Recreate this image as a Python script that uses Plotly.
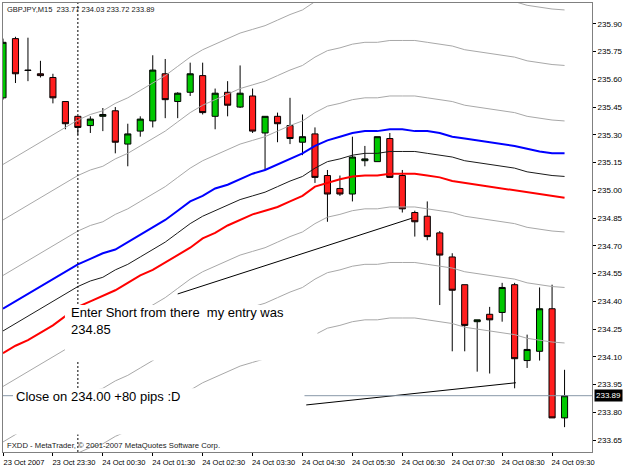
import plotly.graph_objects as go

# ---------------- data (GBPJPY M15, 23 Oct 2007 22:30 .. 24 Oct 09:45) ----------------
bar_times = ["23 Oct 22:30", "23 Oct 22:45", "23 Oct 23:00", "23 Oct 23:15", "23 Oct 23:30", "23 Oct 23:45",
             "24 Oct 00:00", "24 Oct 00:15", "24 Oct 00:30", "24 Oct 00:45", "24 Oct 01:00", "24 Oct 01:15",
             "24 Oct 01:30", "24 Oct 01:45", "24 Oct 02:00", "24 Oct 02:15", "24 Oct 02:30", "24 Oct 02:45",
             "24 Oct 03:00", "24 Oct 03:15", "24 Oct 03:30", "24 Oct 03:45", "24 Oct 04:00", "24 Oct 04:15",
             "24 Oct 04:30", "24 Oct 04:45", "24 Oct 05:00", "24 Oct 05:15", "24 Oct 05:30", "24 Oct 05:45",
             "24 Oct 06:00", "24 Oct 06:15", "24 Oct 06:30", "24 Oct 06:45", "24 Oct 07:00", "24 Oct 07:15",
             "24 Oct 07:30", "24 Oct 07:45", "24 Oct 08:00", "24 Oct 08:15", "24 Oct 08:30", "24 Oct 08:45",
             "24 Oct 09:00", "24 Oct 09:15", "24 Oct 09:30", "24 Oct 09:45"]

opens = [235.50, 235.82, 235.65, 235.63, 235.61, 235.48, 235.40, 235.35, 235.40, 235.43,
         235.25, 235.32, 235.375, 235.63, 235.48, 235.53, 235.62, 235.40, 235.53, 235.45,
         235.51, 235.31, 235.40, 235.35, 235.26, 235.305, 235.08, 235.01, 234.98, 235.16,
         235.155, 235.28, 235.08, 234.88, 234.86, 234.77, 234.64, 234.49, 234.29, 234.33,
         234.34, 234.49, 234.08, 234.13, 234.36, 233.77]
highs = [235.82, 235.83, 235.825, 235.70, 235.63, 235.48, 235.40, 235.40, 235.445, 235.45,
         235.36, 235.40, 235.73, 235.71, 235.53, 235.69, 235.69, 235.55, 235.59, 235.675,
         235.55, 235.40, 235.42, 235.50, 235.41, 235.34, 235.11, 235.08, 235.29, 235.24,
         235.29, 235.31, 235.11, 234.89, 234.94, 234.78, 234.66, 234.49, 234.30, 234.37,
         234.50, 234.50, 234.22, 234.475, 234.49, 234.03]
lows = [235.49, 235.58, 235.59, 235.61, 235.47, 235.33, 235.30, 235.31, 235.32, 235.20,
        235.13, 235.29, 235.34, 235.39, 235.39, 235.51, 235.41, 235.33, 235.40, 235.445,
        235.31, 235.11, 235.26, 235.25, 235.19, 235.04, 234.83, 234.97, 234.94, 235.13,
        235.155, 235.07, 234.88, 234.75, 234.73, 234.38, 234.13, 234.13, 234.02, 234.01,
        234.29, 233.93, 234.04, 234.08, 233.77, 233.72]
closes = [235.80, 235.63, 235.648, 235.62, 235.50, 235.36, 235.34, 235.385, 235.41, 235.26,
          235.305, 235.385, 235.65, 235.49, 235.525, 235.63, 235.42, 235.525, 235.46, 235.525,
          235.32, 235.40, 235.36, 235.28, 235.29, 235.07, 234.98, 234.98, 235.18, 235.17,
          235.29, 235.07, 234.90, 234.83, 234.75, 234.65, 234.46, 234.27, 234.30, 234.30,
          234.475, 234.09, 234.14, 234.36, 233.77, 233.89]

ma_black = [234.24, 234.28, 234.32, 234.36, 234.40, 234.44, 234.48, 234.51, 234.53, 234.57,
            234.60, 234.64, 234.68, 234.72, 234.77, 234.82, 234.86, 234.89, 234.92, 234.95,
            234.97, 234.99, 235.02, 235.05, 235.075, 235.12, 235.155, 235.17, 235.19, 235.20,
            235.20, 235.21, 235.21, 235.21, 235.20, 235.19, 235.18, 235.16, 235.15, 235.14,
            235.13, 235.12, 235.10, 235.09, 235.08, 235.075]
ma_blue = [234.36, 234.40, 234.44, 234.48, 234.52, 234.56, 234.60, 234.63, 234.66, 234.68,
           234.72, 234.76, 234.80, 234.84, 234.89, 234.94, 234.97, 235.01, 235.03, 235.06,
           235.09, 235.11, 235.14, 235.17, 235.20, 235.24, 235.27, 235.29, 235.31, 235.32,
           235.32, 235.33, 235.33, 235.32, 235.32, 235.31, 235.29, 235.28, 235.27, 235.26,
           235.25, 235.24, 235.225, 235.21, 235.20, 235.20]
ma_red = [234.12, 234.16, 234.19, 234.23, 234.27, 234.32, 234.37, 234.40, 234.43, 234.46,
          234.50, 234.54, 234.57, 234.61, 234.65, 234.69, 234.74, 234.77, 234.81, 234.84,
          234.87, 234.89, 234.91, 234.94, 234.97, 235.02, 235.04, 235.06, 235.075, 235.08,
          235.08, 235.09, 235.09, 235.09, 235.08, 235.07, 235.05, 235.04, 235.03, 235.02,
          235.01, 235.00, 234.99, 234.98, 234.97, 234.96]
envelope_offsets = [0.30, 0.60, 0.90]   # grey envelope bands around the black MA

entry_line_bar = [14.0, 32.8]
entry_line_price = [234.44, 234.85]
exit_line_bar = [24.3, 41.1]
exit_line_price = [233.84, 233.96]

tick_bars = [0, 4, 8, 12, 16, 20, 24, 28, 32, 36, 40, 44]
tick_labels = ["23 Oct 2007", "23 Oct 23:30", "24 Oct 00:30", "24 Oct 01:30", "24 Oct 02:30",
               "24 Oct 03:30", "24 Oct 04:30", "24 Oct 05:30", "24 Oct 06:30", "24 Oct 07:30",
               "24 Oct 08:30", "24 Oct 09:30"]
separator_bar = 6  # 24 Oct 00:00

bars = list(range(len(opens)))
FONT = "Liberation Sans"
GREEN = "#00C800"
RED = "#FF1E1E"

fig = go.Figure()
fig.add_trace(go.Candlestick(
    x=bars, open=opens, high=highs, low=lows, close=closes,
    increasing=dict(fillcolor=GREEN, line=dict(color="black", width=1)),
    decreasing=dict(fillcolor=RED, line=dict(color="black", width=1)),
    whiskerwidth=0, showlegend=False, hoverinfo="skip"))

for d in envelope_offsets:
    for sgn in (1, -1):
        fig.add_trace(go.Scatter(x=bars, y=[m + sgn * d for m in ma_black], mode="lines",
                                 line=dict(color="#A8A8A8", width=1), showlegend=False, hoverinfo="skip"))
fig.add_trace(go.Scatter(x=bars, y=ma_blue, mode="lines", line=dict(color="#0000FF", width=2),
                         showlegend=False, hoverinfo="skip"))
fig.add_trace(go.Scatter(x=bars, y=ma_red, mode="lines", line=dict(color="#FF0000", width=2),
                         showlegend=False, hoverinfo="skip"))
fig.add_trace(go.Scatter(x=bars, y=ma_black, mode="lines", line=dict(color="#1A1A1A", width=1),
                         showlegend=False, hoverinfo="skip"))
fig.add_trace(go.Scatter(x=entry_line_bar, y=entry_line_price, mode="lines",
                         line=dict(color="black", width=1), showlegend=False, hoverinfo="skip"))
fig.add_trace(go.Scatter(x=exit_line_bar, y=exit_line_price, mode="lines",
                         line=dict(color="black", width=1), showlegend=False, hoverinfo="skip"))

shapes = [
    # current price line
    dict(type="line", xref="paper", x0=0, x1=1, yref="y", y0=closes[-1], y1=closes[-1],
         line=dict(color="#8898A8", width=1), layer="above"),
    # day separator
    dict(type="line", xref="x", x0=separator_bar, x1=separator_bar, yref="paper", y0=0, y1=1,
         line=dict(color="black", width=1, dash="2px,2px"), layer="above"),
    # text object backgrounds
    dict(type="rect", xref="x", yref="y", x0=4.96, x1=25.2, y0=234.08, y1=234.38,
         fillcolor="white", line=dict(width=0), layer="above"),
    dict(type="rect", xref="x", yref="y", x0=0.8, x1=24.16, y0=233.68, y1=233.93,
         fillcolor="white", line=dict(width=0), layer="above"),
]

annotations = [
    dict(text="GBPJPY,M15  233.77 234.03 233.72 233.89", xref="paper", yref="paper", x=0.003, y=1,
         xanchor="left", yanchor="top", showarrow=False, font=dict(family=FONT, size=7.5, color="#202020")),
    dict(text="FXDD - MetaTrader, \u00a9 2001-2007 MetaQuotes Software Corp.", xref="paper", yref="paper",
         x=0.003, y=0, xanchor="left", yanchor="bottom", showarrow=False,
         font=dict(family=FONT, size=7.7, color="#202020")),
    dict(text="Enter Short from there  my entry was", xref="x", yref="y", x=5.3, y=234.34,
         xanchor="left", yanchor="middle", showarrow=False, font=dict(family=FONT, size=13, color="black")),
    dict(text="234.85", xref="x", yref="y", x=5.25, y=234.25,
         xanchor="left", yanchor="middle", showarrow=False, font=dict(family=FONT, size=13, color="black")),
    dict(text="Close on 234.00 +80 pips :D", xref="x", yref="y", x=0.85, y=233.888,
         xanchor="left", yanchor="middle", showarrow=False, font=dict(family=FONT, size=13, color="black")),
    dict(text="233.89", xref="paper", yref="y", x=1, y=closes[-1], xanchor="left", yanchor="middle",
         xshift=2, showarrow=False, bgcolor="black", borderpad=1,
         font=dict(family=FONT, size=8, color="white")),
]

fig.update_layout(
    width=625, height=469,
    margin=dict(l=3, r=32, t=2, b=14),
    paper_bgcolor="white", plot_bgcolor="white",
    showlegend=False,
    shapes=shapes, annotations=annotations,
    font=dict(family=FONT, size=8, color="black"),
)
fig.update_xaxes(
    range=[0, 47.2], rangeslider=dict(visible=False),
    tickmode="array", tickvals=tick_bars, ticktext=tick_labels,
    ticks="outside", ticklen=3, tickcolor="black", ticklabelshift=21,
    tickfont=dict(family=FONT, size=7.5, color="black"),
    showgrid=False, zeroline=False, showline=True, linecolor="#808080", linewidth=1, mirror=True,
)
fig.update_yaxes(
    side="right", range=[233.5857, 236.0125],
    tick0=233.65, dtick=0.15, tickformat=".2f",
    ticks="outside", ticklen=3, tickcolor="black",
    tickfont=dict(family=FONT, size=8, color="black"),
    showgrid=False, zeroline=False, showline=True, linecolor="#808080", linewidth=1, mirror=True,
)

fig.write_html("out.html")
